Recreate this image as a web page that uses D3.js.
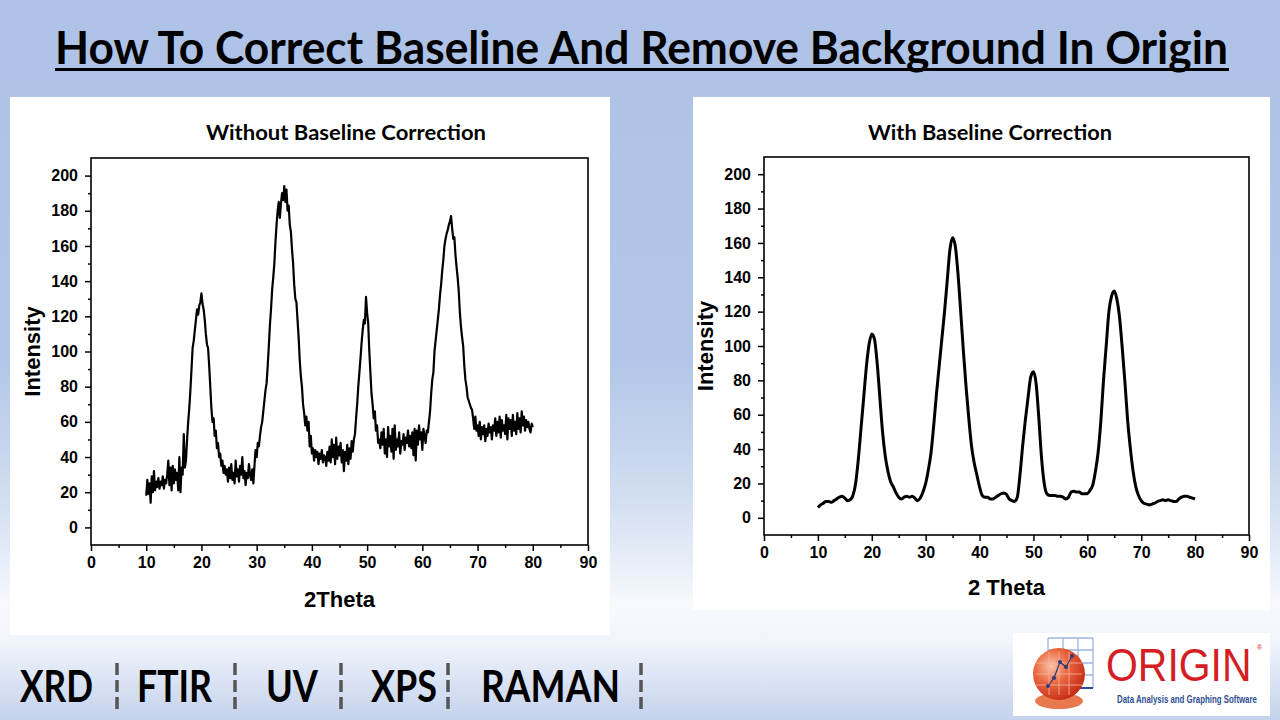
<!DOCTYPE html>
<html><head><meta charset="utf-8">
<script src="https://cdn.jsdelivr.net/npm/d3@7"></script>
<style>html,body{margin:0;padding:0;background:#fff}svg{display:block}</style>
</head><body>
<svg id="c" width="1280" height="720"></svg>
<script>
// ---------- data ----------
const thetaTicks = [0,10,20,30,40,50,60,70,80,90];
const thetaMinor = [5,15,25,35,45,55,65,75,85];
const intensityTicks = [0,20,40,60,80,100,120,140,160,180,200];
const intensityMinor = [10,30,50,70,90,110,130,150,170,190];
const rawStart = 10, rawStep = 0.2;
const rawIntensity = [
18,27,19,25,14,29,20,32,21,26,
23,28,22,26,24,29,22,27,25,30,
38,24,34,21,35,25,33,27,31,21,
40,20,34,30,53,34,38,50,60,68,
78,90,102,106,112,118,124,121,126,128,
133,127,124,118,110,104,102,92,80,68,
60,62,52,55,45,48,40,42,35,38,
31,35,30,33,26,34,28,36,27,31,
25,38,29,33,26,35,30,40,28,32,
24,31,28,36,30,27,33,25,35,44,
40,48,46,52,57,60,66,72,78,82,
92,103,115,124,135,142,150,162,172,180,
185,176,184,190,186,194,185,192,180,183,
172,168,158,150,138,130,128,118,108,95,
86,80,70,65,58,63,55,60,46,52,
42,45,38,44,40,43,36,42,39,44,
37,41,40,35,43,38,46,37,50,40,
47,36,51,39,46,41,48,37,44,32,
43,38,47,36,45,39,49,43,50,53,
62,70,80,88,96,105,112,118,116,131,
122,116,100,88,76,70,62,66,55,58,
48,50,45,54,47,56,42,50,40,57,
46,52,43,56,39,58,44,50,46,54,
42,49,47,53,44,51,48,55,46,52,
45,54,41,56,38,55,47,58,50,54,
44,56,52,48,55,54,60,66,76,84,
88,100,106,112,118,124,132,138,146,152,
160,164,167,169,172,174,177,170,164,165,
155,148,142,134,122,114,108,103,92,84,
80,74,72,70,68,67,62,56,63,55,
58,52,60,50,57,53,58,49,56,52,
59,54,57,50,58,55,62,52,60,54,
63,51,61,55,58,53,64,50,62,56,
61,52,64,55,60,53,65,56,62,54,
66,58,63,55,61,57,60,56,54,59,
57];
const corrStart = 10, corrStep = 0.5;
const correctedIntensity = [
6,7.5,8.5,9.5,9.5,9,10,11,12,12.5,
11.5,10,10.5,13,20,34,52,70,88,101,
107,104,90,70,50,36,27,21,18,14.5,
12,11,12,12.5,12,12.5,11.5,10,11.5,15,
20,28,38,54,72,88,104,120,138,156,
163,158,142,120,97,76,58,42,32,25,
18,13,12,12,11,11,12,13,14,14.5,
13.5,11,10,9.5,12,25,42,57,70,82,
85,78,58,35,20,14,13,13,13,12.5,
12.5,12,11,12,15,15.5,15,15,14,14,
14,16,19,27,38,56,80,100,120,129,
132,127,116,98,78,56,40,27,18,13,
10,8.5,8,7.5,8,8.5,9.5,10,10.5,10,
10.5,10,9.5,9.5,11,12,12.5,12.5,12,11.5,
11];
const bottomWords = ["XRD","FTIR","UV","XPS","RAMAN"];

// ---------- drawing ----------
const svg = d3.select("#c");
const defs = svg.append("defs");
const bg = defs.append("linearGradient").attr("id","bg").attr("x1",0).attr("y1",0).attr("x2",0).attr("y2",1);
[[0,"#adc2e6"],[0.5,"#b2c6e8"],[0.7,"#d3dff2"],[0.84,"#f7f9fd"],[0.89,"#f1f5fb"],[1,"#c4d2ed"]]
  .forEach(([o,c])=>bg.append("stop").attr("offset",o).attr("stop-color",c));
const sph = defs.append("radialGradient").attr("id","sph").attr("cx","35%").attr("cy","35%").attr("r","70%");
[[0,"#fbc3a8"],[0.45,"#ec6a44"],[1,"#c52b15"]].forEach(([o,c])=>sph.append("stop").attr("offset",o).attr("stop-color",c));

svg.append("rect").attr("width",1280).attr("height",720).attr("fill","url(#bg)");

// title
svg.append("text").attr("x",55).attr("y",64)
  .attr("font-family","Lato, 'Open Sans', sans-serif").attr("font-weight","bold").attr("font-size",45)
  .attr("textLength",1173).attr("lengthAdjust","spacingAndGlyphs").attr("fill","#000")
  .text("How To Correct Baseline And Remove Background In Origin");
svg.append("rect").attr("x",55).attr("y",68).attr("width",1174).attr("height",3).attr("fill","#000");

// panels
svg.append("rect").attr("x",10).attr("y",97).attr("width",600).attr("height",538).attr("fill","#fff");
svg.append("rect").attr("x",693).attr("y",97).attr("width",577).attr("height",513).attr("fill","#fff");

function chart(cfg){
  const g = svg.append("g");
  const x = d3.scaleLinear().domain([0,90]).range([cfg.x0,cfg.x1]);
  const y = d3.scaleLinear().domain([-10,210]).range([cfg.y1,cfg.y0]);
  const tickFont = g=>g.selectAll("text").attr("font-family","'Liberation Sans', Arial, sans-serif")
      .attr("font-weight","bold").attr("font-size",16).attr("fill","#000");
  const xa = g.append("g").attr("transform",`translate(0,${cfg.y1})`)
    .call(d3.axisBottom(x).tickValues(thetaTicks).tickSize(6).tickPadding(6).tickSizeOuter(0));
  xa.call(tickFont);
  g.append("g").attr("transform",`translate(0,${cfg.y1})`)
    .call(d3.axisBottom(x).tickValues(thetaMinor).tickSize(3).tickFormat("").tickSizeOuter(0));
  const ya = g.append("g").attr("transform",`translate(${cfg.x0},0)`)
    .call(d3.axisLeft(y).tickValues(intensityTicks).tickSize(6).tickPadding(7).tickSizeOuter(0));
  ya.call(tickFont);
  g.append("g").attr("transform",`translate(${cfg.x0},0)`)
    .call(d3.axisLeft(y).tickValues(intensityMinor).tickSize(3).tickFormat("").tickSizeOuter(0));
  g.selectAll(".domain").remove();
  g.selectAll(".tick line").attr("stroke","#000").attr("stroke-width",1.5);
  g.append("rect").attr("x",cfg.x0).attr("y",cfg.y0).attr("width",cfg.x1-cfg.x0).attr("height",cfg.y1-cfg.y0)
    .attr("fill","none").attr("stroke","#000").attr("stroke-width",1.6);
  const pts = cfg.data.map((v,i)=>[cfg.start+i*cfg.step, v]);
  g.append("path").datum(pts)
    .attr("d", d3.line().x(d=>x(d[0])).y(d=>y(d[1])).curve(cfg.curve))
    .attr("fill","none").attr("stroke","#000").attr("stroke-width",cfg.sw).attr("stroke-linejoin","round");
  g.append("text").attr("x",cfg.tx).attr("y",140).attr("text-anchor","middle")
    .attr("font-family","Lato, 'Open Sans', sans-serif").attr("font-weight","bold").attr("font-size",20)
    .attr("textLength",cfg.tw).attr("lengthAdjust","spacingAndGlyphs").text(cfg.title);
  g.append("text").attr("x",(cfg.x0+cfg.x1)/2).attr("y",cfg.xly).attr("text-anchor","middle")
    .attr("font-family","'Liberation Sans', Arial, sans-serif").attr("font-weight","bold").attr("font-size",22)
    .text(cfg.xlabel);
  g.append("text").attr("transform",`translate(${cfg.ylx},${(cfg.y0+cfg.y1)/2}) rotate(-90)`).attr("text-anchor","middle")
    .attr("font-family","'Liberation Sans', Arial, sans-serif").attr("font-weight","bold").attr("font-size",22)
    .text("Intensity");
}
chart({x0:91,x1:588,y0:158,y1:545,data:rawIntensity,start:rawStart,step:rawStep,curve:d3.curveLinear,sw:2.2,
  title:"Without Baseline Correction",tx:346,tw:280,xlabel:"2Theta",xly:607,ylx:40});
chart({x0:764,x1:1249,y0:157,y1:535,data:correctedIntensity,start:corrStart,step:corrStep,curve:d3.curveMonotoneX,sw:3,
  title:"With Baseline Correction",tx:990,tw:244,xlabel:"2 Theta",xly:595,ylx:713});

// bottom words
const wordPos = [[20,73],[137,75],[266,52],[371,66],[481,139]];
const barX = [117,235,341,448,641];
svg.append("g").selectAll("text").data(bottomWords).join("text")
  .attr("x",(d,i)=>wordPos[i][0]).attr("y",702)
  .attr("textLength",(d,i)=>wordPos[i][1]).attr("lengthAdjust","spacingAndGlyphs")
  .attr("font-family","Lato, 'Open Sans', sans-serif").attr("font-weight","bold").attr("font-size",43)
  .attr("fill","#000").text(d=>d);
svg.append("g").selectAll("line").data(barX).join("line")
  .attr("x1",d=>d).attr("x2",d=>d).attr("y1",663).attr("y2",710)
  .attr("stroke","#555").attr("stroke-width",3.5).attr("stroke-dasharray","12,5");

// logo
const L = svg.append("g");
L.append("rect").attr("x",1013).attr("y",633).attr("width",257).attr("height",83).attr("fill","#fff");
const gx=[1048,1063,1078,1093], gy=[638,650,663,675,688];
gx.forEach(v=>L.append("line").attr("x1",v).attr("x2",v).attr("y1",638).attr("y2",688).attr("stroke","#9fb4de").attr("stroke-width",1.3));
gy.forEach(v=>L.append("line").attr("x1",1048).attr("x2",1093).attr("y1",v).attr("y2",v).attr("stroke","#9fb4de").attr("stroke-width",1.3));
L.append("line").attr("x1",1070).attr("x2",1093).attr("y1",688).attr("y2",688).attr("stroke","#2a4b9a").attr("stroke-width",2);
L.append("ellipse").attr("cx",1059).attr("cy",701).attr("rx",24).attr("ry",8).attr("fill","#e8794f");
L.append("circle").attr("cx",1059).attr("cy",674).attr("r",26).attr("fill","url(#sph)");
[1049,1059,1069].forEach(v=>L.append("line").attr("x1",v).attr("x2",v).attr("y1",652).attr("y2",695).attr("stroke","#f6b59c").attr("stroke-width",0.8));
[663,674,685].forEach(v=>L.append("line").attr("x1",1036).attr("x2",1082).attr("y1",v).attr("y2",v).attr("stroke","#f6b59c").attr("stroke-width",0.8));
const lp=[[1048,686],[1054,678],[1060,662],[1066,667],[1072,656]];
L.append("polyline").attr("points",lp.map(p=>p.join(",")).join(" ")).attr("fill","none").attr("stroke","#2c3a78").attr("stroke-width",1.2);
lp.forEach(p=>L.append("circle").attr("cx",p[0]).attr("cy",p[1]).attr("r",2).attr("fill","#2c3a78"));
L.append("text").attr("transform","translate(1106,681) scale(0.89,1)").attr("x",0).attr("y",0)
  .attr("font-family","'Liberation Sans', Arial, sans-serif").attr("font-size",46).attr("fill","#d51d24").text("ORIGIN");
L.append("text").attr("x",1257).attr("y",650).attr("font-family","'Liberation Sans', Arial, sans-serif").attr("font-size",7).attr("fill","#d51d24").text("®");
L.append("text").attr("transform","translate(1117,703) scale(0.66,1)").attr("x",0).attr("y",0)
  .attr("textLength",212).attr("lengthAdjust","spacingAndGlyphs")
  .attr("font-family","'Liberation Sans', Arial, sans-serif").attr("font-weight","bold").attr("font-size",11).attr("fill","#2d4f94")
  .text("Data Analysis and Graphing Software");
</script>
</body></html>
